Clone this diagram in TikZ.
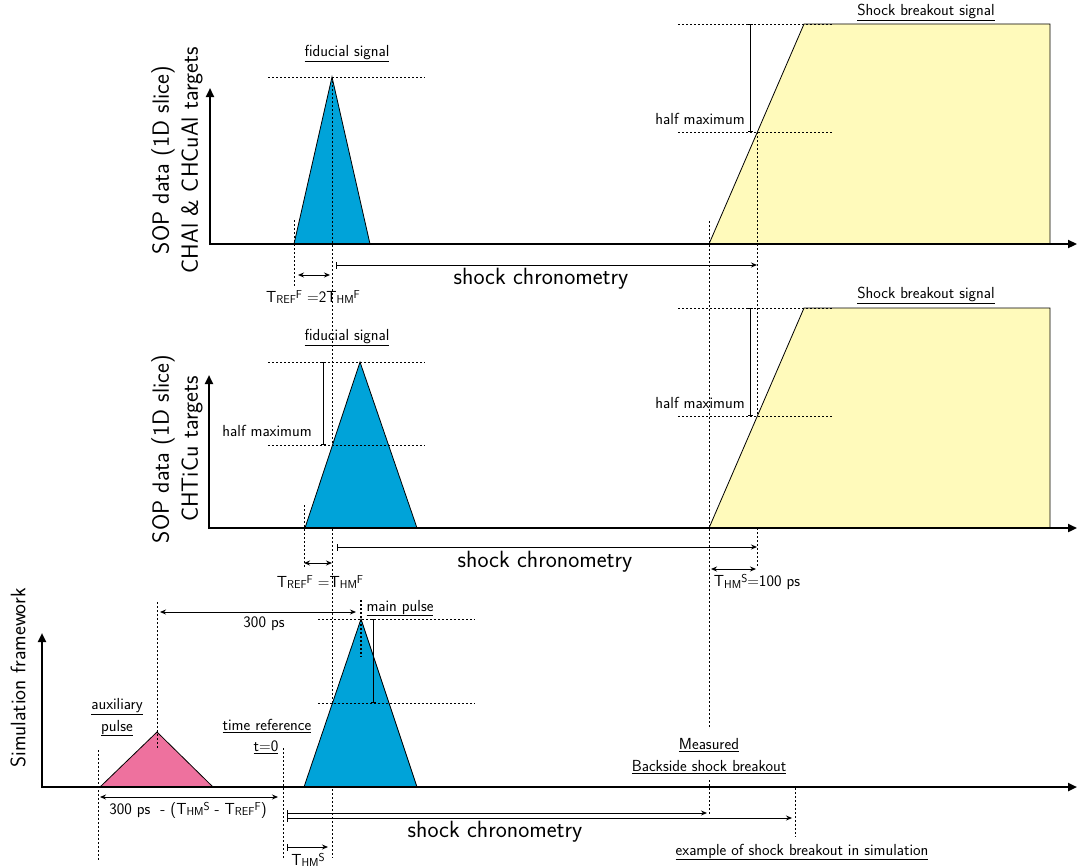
\documentclass[tikz,border=0pt]{standalone}
\usepackage{fontspec}
\usetikzlibrary{arrows.meta}
\definecolor{fidblue}{RGB}{0,163,217}
\definecolor{sbyellow}{RGB}{255,250,187}
\definecolor{auxpink}{RGB}{238,113,158}
\newcommand{\Tx}[2]{T\raisebox{-0.25ex}{\scalebox{0.72}{#1}}\raisebox{0.55ex}{\scalebox{0.72}{#2}}}
\tikzset{
  small/.style={font=\sffamily\fontsize{16}{19}\selectfont, inner sep=1pt},
  big/.style={font=\sffamily\fontsize{23.5}{28}\selectfont, inner sep=1pt},
  axlabel/.style={font=\sffamily\fontsize{23.5}{29}\selectfont, align=center, rotate=90, inner sep=0pt},
  axisline/.style={line width=2.2pt, -{Triangle[length=9pt,width=8pt]}},
  guide/.style={line width=0.8pt, dash pattern=on 2pt off 2pt},
  pulse/.style={draw=black, line width=0.8pt, line join=miter},
  dimarrow/.style={line width=0.9pt, {Stealth[length=6pt,width=5pt]}-{Stealth[length=6pt,width=5pt]}},
  chrono/.style={line width=0.9pt, {Bar[width=7pt]}-{Stealth[length=6pt,width=5pt]}},
  hmbar/.style={line width=0.9pt, {Bar[width=5pt]}-{Bar[width=5pt]}},
}
\begin{document}
\begin{tikzpicture}[x=1pt,y=-1pt]
\useasboundingbox (0,0) rectangle (1078,867);

% ================= Panel 1 =================
\fill[sbyellow] (709,244) -- (804,24) -- (1050,24) -- (1050,244) -- cycle;
\draw[line width=0.8pt] (709,244) -- (804,24) -- (1050,24) -- (1050,244);
\filldraw[pulse, fill=fidblue] (294,244) -- (332,77) -- (370,244) -- cycle;
\draw[axisline] (209,244) -- (1077,244);
\draw[axisline] (210,245) -- (210,88);

\draw[guide] (268,77) -- (425,77);
\draw[guide] (678,24) -- (833,24);
\draw[guide] (678,132) -- (833,132);
\coordinate (hb1t) at (750,24); \coordinate (hb1b) at (750,132);
\draw[hmbar] (hb1t) -- (hb1b);
\node[small, anchor=east] (hm1) at (746,119) {half maximum};

\draw[guide] (294,220) -- (294,287);
\draw[guide] (332,77) -- (332,858);
\draw[guide] (709,221) -- (709,727);
\draw[guide] (757,132) -- (757,567);

\coordinate (r1a) at (298,275); \coordinate (r1b) at (330,275);
\draw[dimarrow] (r1a) -- (r1b);
\node[small] (tref1) at (313,297) {\Tx{REF}{F} =2\Tx{HM}{F}};
\coordinate (c1a) at (336,265); \coordinate (c1b) at (757,265);
\draw[chrono] (c1a) -- (c1b);
\node[big] (sc1) at (541,279) {shock chronometry};
\node[small] (fid1) at (347,54) {\underline{fiducial signal}};
\node[small] (sb1) at (926,12) {\underline{Shock breakout signal}};
\node[axlabel] (ax1) at (177,160) {SOP data (1D slice)\\CHAl \& CHCuAl targets};

% ================= Panel 2 =================
\fill[sbyellow] (709,528) -- (804,308) -- (1050,308) -- (1050,528) -- cycle;
\draw[line width=0.8pt] (709,528) -- (804,308) -- (1050,308) -- (1050,528);
\filldraw[pulse, fill=fidblue] (305,528) -- (360,362) -- (417,528) -- cycle;
\draw[axisline] (208,528) -- (1077,528);
\draw[axisline] (209,529) -- (209,375);

\draw[guide] (268,362) -- (425,362);
\draw[guide] (268,445) -- (425,445);
\coordinate (hb2t) at (323,362); \coordinate (hb2b) at (323,445);
\draw[hmbar] (hb2t) -- (hb2b);
\node[small, anchor=east] (hm2) at (313,431) {half maximum};
\draw[guide] (678,308) -- (833,308);
\draw[guide] (678,416) -- (833,416);
\coordinate (hb3t) at (750,308); \coordinate (hb3b) at (750,416);
\draw[hmbar] (hb3t) -- (hb3b);
\node[small, anchor=east] (hm3) at (746,403) {half maximum};

\draw[guide] (304,505) -- (304,567);
\coordinate (r2a) at (304,563); \coordinate (r2b) at (332,563);
\draw[dimarrow] (r2a) -- (r2b);
\node[small] (tref2) at (320,582) {\Tx{REF}{F} =\Tx{HM}{F}};
\coordinate (c2a) at (337,547); \coordinate (c2b) at (757,547);
\draw[chrono] (c2a) -- (c2b);
\node[big] (sc2) at (545,562) {shock chronometry};
\node[small] (fid2) at (347,338) {\underline{fiducial signal}};
\node[small] (sb2) at (926,295) {\underline{Shock breakout signal}};
\coordinate (s2a) at (711,569); \coordinate (s2b) at (756,569);
\draw[dimarrow] (s2a) -- (s2b);
\node[small] (ths2) at (757,582) {\Tx{HM}{S}=100 ps};
\node[axlabel] (ax2) at (177,449) {SOP data (1D slice)\\CHTiCu targets};

% ================= Panel 3 =================
\filldraw[pulse, fill=auxpink] (100,787) -- (157,732) -- (213,787) -- cycle;
\filldraw[pulse, fill=fidblue] (304,787) -- (361,619) -- (417,787) -- cycle;
\draw[axisline] (41,787) -- (1077,787);
\draw[axisline] (42,788) -- (42,633);

\draw[guide] (157,602) -- (157,748);
\draw[guide] (98,750) -- (98,860);
\coordinate (p3a) at (160,612); \coordinate (p3b) at (356,612);
\draw[dimarrow] (p3a) -- (p3b);
\node[small] (ps300) at (264,624) {300 ps};
\draw[line width=1.2pt, dash pattern=on 2pt off 2pt] (361,600) -- (361,657);
\node[small] (mp) at (400,608) {\underline{main pulse}};
\draw[guide] (318,619) -- (475,619);
\draw[guide] (318,703) -- (475,703);
\coordinate (hb4t) at (373,619); \coordinate (hb4b) at (373,703);
\draw[hmbar] (hb4t) -- (hb4b);
\node[small] (aux1) at (117,707) {\underline{auxiliary}};
\node[small] (aux2) at (117,728) {\underline{pulse}};
\node[small] (tr1) at (267,726) {\underline{time reference}};
\node[small] (tr2) at (266,747) {\underline{t=0}};
\draw[guide] (283,748) -- (283,858);
\coordinate (d3a) at (100,797); \coordinate (d3b) at (278,797);
\draw[dimarrow] (d3a) -- (d3b);
\node[small] (dl3) at (188,810) {300 ps \ - (\Tx{HM}{S} - \Tx{REF}{F})};
\coordinate (c3a) at (287,813); \coordinate (c3b) at (707,813);
\draw[chrono] (c3a) -- (c3b);
\coordinate (c4a) at (287,818); \coordinate (c4b) at (792,818);
\draw[chrono] (c4a) -- (c4b);
\draw[guide] (709,780) -- (709,815);
\draw[guide] (795,788) -- (795,837);
\node[small] (meas1) at (709,745) {\underline{Measured}};
\node[small] (meas2) at (709,767) {\underline{Backside shock breakout}};
\node[big] (sc3) at (495,832) {shock chronometry};
\node[small] (ex) at (802,852) {\underline{example of shock breakout in simulation}};
\coordinate (t3a) at (287,847); \coordinate (t3b) at (328,847);
\draw[chrono] (t3a) -- (t3b);
\node[small] (ths3) at (308,860) {\Tx{HM}{S}};
\node[font=\sffamily\fontsize{21}{25}\selectfont, rotate=90, inner sep=0pt] (ax3) at (18,678) {Simulation framework};
\end{tikzpicture}
\end{document}
